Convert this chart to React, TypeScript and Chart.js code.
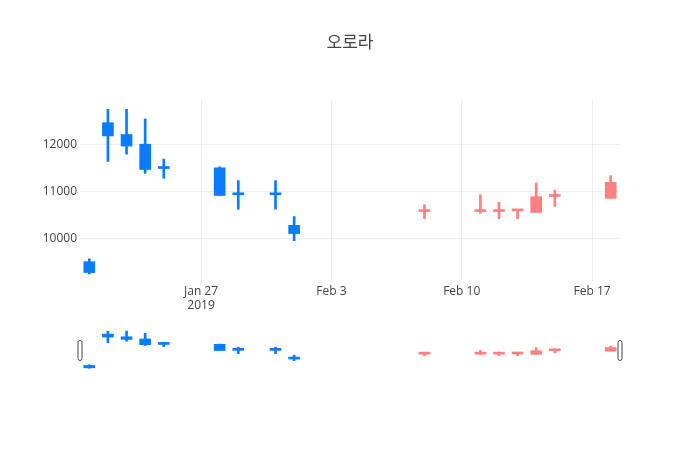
import React, { useEffect, useRef } from 'react';
import { Chart, registerables } from 'chart.js';

Chart.register(...registerables);

// candles
const dates = [
    '2019-01-21', '2019-01-22', '2019-01-23', '2019-01-24', '2019-01-25',
    '2019-01-28', '2019-01-29', '2019-01-31', '2019-02-01',
    '2019-02-08', '2019-02-11', '2019-02-12', '2019-02-13', '2019-02-14', '2019-02-15', '2019-02-18',
];
const openVals = [9520, 12460, 12210, 12005, 11490, 11505, 10935, 10935, 10290, 10580, 10580, 10580, 10595, 10895, 10900, 11200];
const highVals = [9580, 12745, 12745, 12540, 11690, 11525, 11235, 11235, 10475, 10725, 10935, 10775, 10605, 11185, 11035, 11340];
const lowVals = [9260, 11640, 11795, 11390, 11285, 10915, 10630, 10630, 9965, 10430, 10545, 10430, 10430, 10560, 10690, 10860];
const closeVals = [9290, 12180, 11965, 11470, 11490, 10920, 10935, 10935, 10115, 10580, 10580, 10580, 10595, 10560, 10900, 10860];

const tickDates = ['2019-01-27', '2019-02-03', '2019-02-10', '2019-02-17'];
const tickLabels: (string | string[])[] = [['Jan 27', '2019'], 'Feb 3', 'Feb 10', 'Feb 17'];
const yTicks = [10000, 11000, 12000];
const title = '오로라';

const BLUE = '#0a7cff';
const RED = '#ff8080';
const FONT = '"Open Sans", "Noto Sans CJK KR", sans-serif';

const base = Date.parse('2019-01-27');
const dayOf = (s: string) => (Date.parse(s) - base) / 86400000;

const xMin = dayOf(dates[0]) - 0.5;
const xMax = dayOf(dates[dates.length - 1]) + 0.5;
const yMin = 9090;
const yMax = 12940;

const colors = dates.map(d => (d < '2019-02-05' ? BLUE : RED));

const makeDatasets = () => [
    {
        data: dates.map((d, i) => ({ x: dayOf(d), y: [lowVals[i], highVals[i]] })),
        backgroundColor: colors,
        barThickness: 2,
        grouped: false,
        minBarLength: 2,
        order: 2,
    },
    {
        data: dates.map((d, i) => ({ x: dayOf(d), y: [openVals[i], closeVals[i]] })),
        backgroundColor: colors,
        barThickness: 11,
        grouped: false,
        minBarLength: 2,
        order: 1,
    },
];

// title centred on the whole page, like plotly does
const pageTitle = {
    id: 'pageTitle',
    afterDraw(chart: Chart) {
        const { ctx } = chart;
        ctx.save();
        ctx.font = `17px ${FONT}`;
        ctx.fillStyle = '#444';
        ctx.textAlign = 'center';
        ctx.textBaseline = 'middle';
        ctx.fillText(title, chart.width / 2, 43);
        ctx.restore();
    },
};

const sliderHandles = {
    id: 'sliderHandles',
    afterDraw(chart: Chart) {
        const { ctx, chartArea } = chart;
        ctx.save();
        ctx.strokeStyle = '#444';
        ctx.fillStyle = '#fff';
        ctx.lineWidth = 1;
        [chartArea.left, chartArea.right].forEach(x => {
            ctx.beginPath();
            ctx.roundRect(x - 2, 11.5, 4, 20, 2);
            ctx.fill();
            ctx.stroke();
        });
        ctx.restore();
    },
};

const App: React.FC = () => {
    const mainRef = useRef<HTMLCanvasElement>(null);
    const sliderRef = useRef<HTMLCanvasElement>(null);

    useEffect(() => {
        if (!mainRef.current || !sliderRef.current) return;

        const main = new Chart(mainRef.current, {
            type: 'bar',
            data: { datasets: makeDatasets() as any },
            options: {
                animation: false,
                responsive: true,
                maintainAspectRatio: false,
                layout: { padding: { left: 0, right: 80, top: 100, bottom: 0 } },
                plugins: {
                    legend: { display: false },
                    tooltip: { enabled: false },
                },
                scales: {
                    x: {
                        type: 'linear',
                        min: xMin,
                        max: xMax,
                        offset: false,
                        afterBuildTicks: (scale: any) => {
                            scale.ticks = tickDates.map(d => ({ value: dayOf(d) }));
                        },
                        afterFit: (scale: any) => { scale.height = 38; },
                        grid: { color: '#eee', drawTicks: false, offset: false },
                        border: { display: false },
                        ticks: {
                            color: '#444',
                            padding: 2,
                            maxRotation: 0,
                            autoSkip: false,
                            font: { family: FONT, size: 12 },
                            callback: (_v: any, i: number) => tickLabels[i],
                        },
                    },
                    y: {
                        min: yMin,
                        max: yMax,
                        afterBuildTicks: (scale: any) => {
                            scale.ticks = yTicks.map(v => ({ value: v }));
                        },
                        afterFit: (scale: any) => { scale.width = 80; },
                        grid: { color: '#eee', drawTicks: false },
                        border: { display: false },
                        ticks: {
                            color: '#444',
                            padding: 3,
                            font: { family: FONT, size: 12 },
                            callback: (v: any) => String(v),
                        },
                    },
                },
            },
            plugins: [pageTitle],
        });

        const slider = new Chart(sliderRef.current, {
            type: 'bar',
            data: { datasets: makeDatasets() as any },
            options: {
                animation: false,
                responsive: true,
                maintainAspectRatio: false,
                layout: { padding: { left: 80, right: 80, top: 0, bottom: 0 } },
                plugins: { legend: { display: false }, tooltip: { enabled: false } },
                scales: {
                    x: { type: 'linear', min: xMin, max: xMax, offset: false, display: false },
                    y: { min: yMin, max: yMax, display: false },
                },
            },
            plugins: [sliderHandles],
        });

        return () => {
            main.destroy();
            slider.destroy();
        };
    }, []);

    return (
        <div style={{ position: 'absolute', left: 0, top: 0, width: 700, height: 450, background: '#fff' }}>
            <div style={{ position: 'absolute', left: 0, top: 0, width: 700, height: 320 }}>
                <canvas ref={mainRef}></canvas>
            </div>
            <div style={{ position: 'absolute', left: 0, top: 329, width: 700, height: 41 }}>
                <canvas ref={sliderRef}></canvas>
            </div>
        </div>
    );
};

export default App;
